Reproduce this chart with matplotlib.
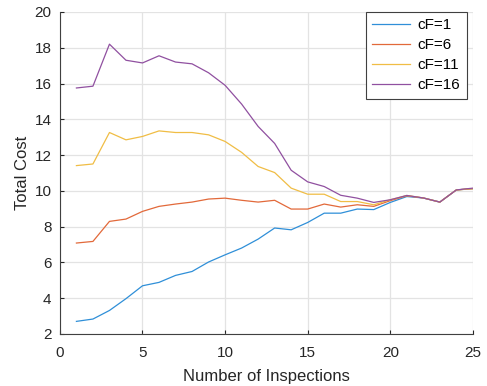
import matplotlib.pyplot as plt
import numpy as np

# Data
inspections = np.arange(1, 26)
cost_cf1 = [2.70, 2.83, 3.31, 3.97, 4.69, 4.88, 5.27, 5.49, 6.02, 6.42,
            6.80, 7.30, 7.92, 7.82, 8.23, 8.75, 8.75, 8.98, 8.95, 9.35,
            9.68, 9.60, 9.37, 10.05, 10.12]
cost_cf6 = [7.08, 7.17, 8.29, 8.42, 8.85, 9.13, 9.26, 9.37, 9.54, 9.59,
            9.47, 9.37, 9.47, 8.98, 8.98, 9.26, 9.09, 9.22, 9.13, 9.45,
            9.72, 9.60, 9.37, 10.05, 10.12]
cost_cf11 = [11.41, 11.50, 13.26, 12.85, 13.04, 13.35, 13.26, 13.26, 13.13, 12.76,
             12.15, 11.36, 11.02, 10.15, 9.81, 9.81, 9.40, 9.40, 9.22, 9.50,
             9.74, 9.60, 9.37, 10.05, 10.12]
cost_cf16 = [15.75, 15.85, 18.20, 17.30, 17.15, 17.55, 17.20, 17.10, 16.60, 15.90,
             14.85, 13.60, 12.65, 11.15, 10.50, 10.24, 9.75, 9.59, 9.35, 9.50,
             9.74, 9.60, 9.37, 10.05, 10.15]
labels = ['cF=1', 'cF=6', 'cF=11', 'cF=16']
colors = ['#2f8fd8', '#e2693a', '#f0bd45', '#9050a0']

plt.rcParams['font.family'] = ['Liberation Sans', 'DejaVu Sans']

fig = plt.figure(figsize=(4.87, 3.86), dpi=100)
ax = fig.add_axes([0.123, 0.135, 0.848, 0.834])

for series, lab, col in zip([cost_cf1, cost_cf6, cost_cf11, cost_cf16], labels, colors):
    ax.plot(inspections, series, color=col, lw=0.9, label=lab)

ax.set_xlim(0, 25)
ax.set_ylim(2, 20)
ax.set_xticks(np.arange(0, 26, 5))
ax.set_yticks(np.arange(2, 21, 2))
ax.grid(True, color='#e3e3e3', lw=0.9)
ax.set_axisbelow(True)
for side in ['top', 'right']:
    ax.spines[side].set_visible(False)
for side in ['left', 'bottom']:
    ax.spines[side].set_color('#404040')
    ax.spines[side].set_linewidth(0.8)
ax.tick_params(direction='in', length=3, colors='#262626', labelsize=11, pad=6)
ax.tick_params(axis='x', pad=9)

ax.set_xlabel('Number of Inspections', fontsize=12, color='#262626', labelpad=6)
ax.set_ylabel('Total Cost', fontsize=12, color='#262626', labelpad=3)

leg = ax.legend(loc='upper right', bbox_to_anchor=(0.985, 1.0), fontsize=11,
                frameon=True, fancybox=False, framealpha=1, edgecolor='#404040',
                handlelength=2.5, borderpad=0.4, labelspacing=0.4,
                handletextpad=0.5, borderaxespad=0)
leg.get_frame().set_linewidth(0.8)

fig.savefig('out.png', dpi=100)
